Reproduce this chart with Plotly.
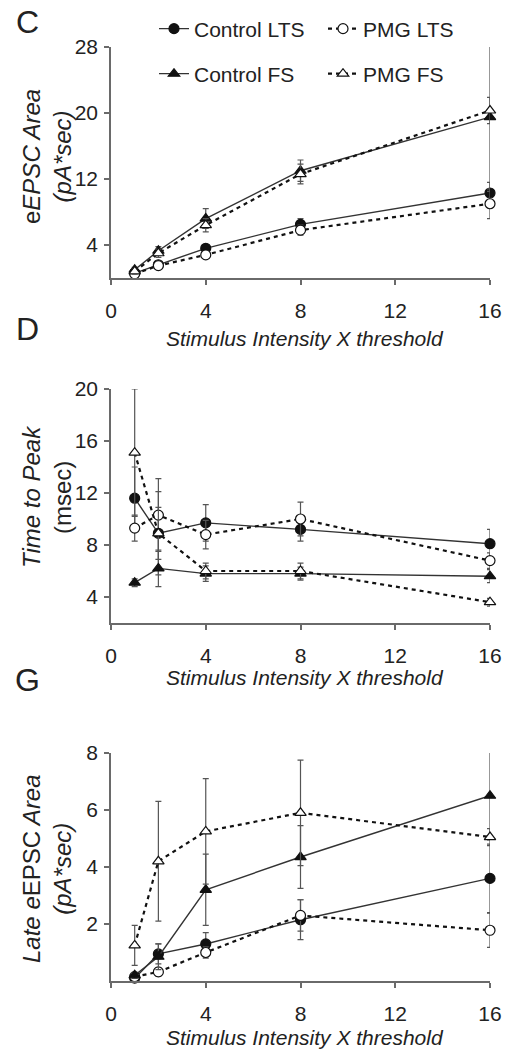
import plotly.graph_objects as go

W, H = 508, 1053

# ---------------- data ----------------
stim_x = [1, 2, 4, 8, 16]
x_ticks = [0, 4, 8, 12, 16]

# Panel C: eEPSC Area (pA*sec)
c_ctrl_lts = [0.6, 1.6, 3.6, 6.5, 10.3]
c_ctrl_lts_err = [0.2, 0.3, 0.4, 0.7, 1.3]
c_pmg_lts = [0.5, 1.5, 2.8, 5.8, 9.0]
c_pmg_lts_err = [0.2, 0.3, 0.4, 0.6, 1.8]
c_ctrl_fs = [1.0, 3.3, 7.2, 13.0, 19.5]
c_ctrl_fs_err = [0.3, 0.5, 1.2, 1.3, 9.0]
c_pmg_fs = [0.8, 3.0, 6.4, 12.6, 20.3]
c_pmg_fs_err = [0.3, 0.5, 0.8, 1.2, 1.6]
c_yticks = [4, 12, 20, 28]

# Panel D: Time to Peak (msec)
d_ctrl_lts = [11.6, 8.9, 9.7, 9.2, 8.1]
d_ctrl_lts_err = [2.4, 3.2, 1.4, 0.9, 1.1]
d_pmg_lts = [9.3, 10.3, 8.8, 10.0, 6.8]
d_pmg_lts_err = [1.0, 2.8, 1.1, 1.3, 0.6]
d_ctrl_fs = [5.1, 6.2, 5.8, 5.8, 5.6]
d_ctrl_fs_err = [0.3, 1.4, 0.6, 0.5, 0.5]
d_pmg_fs = [15.1, 8.9, 6.0, 6.0, 3.6]
d_pmg_fs_err = [4.9, 2.0, 0.6, 0.6, 0.3]
d_yticks = [4, 8, 12, 16, 20]

# Panel G: Late eEPSC Area (pA*sec)
g_ctrl_lts = [0.1, 0.95, 1.3, 2.15, 3.6]
g_ctrl_lts_err = [0.1, 0.35, 0.4, 0.7, 1.2]
g_pmg_lts = [0.15, 0.32, 1.0, 2.3, 1.78]
g_pmg_lts_err = [0.1, 0.15, 0.2, 0.55, 0.6]
g_ctrl_fs = [0.2, 0.85, 3.2, 4.35, 6.5]
g_ctrl_fs_err = [0.1, 0.45, 1.25, 1.1, 1.55]
g_pmg_fs = [1.25, 4.2, 5.25, 5.9, 5.05]
g_pmg_fs_err = [0.7, 2.1, 1.85, 1.85, 0.3]
g_yticks = [2, 4, 6, 8]

series_names = ["Control LTS", "PMG LTS", "Control FS", "PMG FS"]
x_title = "Stimulus Intensity X threshold"
y_title_lines = [("e<i>EPSC Area</i>", "<i>(pA*sec)</i>"),
                 ("<i>Time to Peak</i>", "(msec)"),
                 ("<i>Late e</i>EPSC<i> Area</i>", "<i>(pA*sec)</i>")]
panel_letters = ["C", "D", "G"]

# ---------------- helpers (window pixels -> paper fractions) ----------------
def px(x):
    return x / W

def py(y):
    return 1 - y / H

FONT = "Liberation Sans, Arial, sans-serif"
AX_COL = "#6a6a6a"
TXT_COL = "#222222"

styles = {
    "Control LTS": dict(symbol="circle", fill="#111111", dash="solid", lcol="#333333", lw=1.4),
    "PMG LTS": dict(symbol="circle", fill="white", dash="4px,4px", lcol="#111111", lw=2.2),
    "Control FS": dict(symbol="triangle-up", fill="#111111", dash="solid", lcol="#333333", lw=1.4),
    "PMG FS": dict(symbol="triangle-up", fill="white", dash="4px,4px", lcol="#111111", lw=2.2),
}

fig = go.Figure()

panels = [
    ("", [c_ctrl_lts, c_pmg_lts, c_ctrl_fs, c_pmg_fs],
     [c_ctrl_lts_err, c_pmg_lts_err, c_ctrl_fs_err, c_pmg_fs_err]),
    ("2", [d_ctrl_lts, d_pmg_lts, d_ctrl_fs, d_pmg_fs],
     [d_ctrl_lts_err, d_pmg_lts_err, d_ctrl_fs_err, d_pmg_fs_err]),
    ("3", [g_ctrl_lts, g_pmg_lts, g_ctrl_fs, g_pmg_fs],
     [g_ctrl_lts_err, g_pmg_lts_err, g_ctrl_fs_err, g_pmg_fs_err]),
]

legend_map = {"Control LTS": "legend", "PMG LTS": "legend",
              "Control FS": "legend2", "PMG FS": "legend2"}

for pi, (suffix, ys, errs) in enumerate(panels):
    for name, yv, ev in zip(series_names, ys, errs):
        s = styles[name]
        fig.add_trace(go.Scatter(
            x=stim_x, y=yv, name=name,
            mode="lines+markers",
            xaxis="x" + suffix, yaxis="y" + suffix,
            line=dict(color=s["lcol"], width=s["lw"], dash=s["dash"]),
            marker=dict(symbol=s["symbol"], size=10, color=s["fill"],
                        line=dict(color="#111111", width=1.2)),
            error_y=dict(type="data", array=ev, visible=True,
                         color="#555555", thickness=1.2, width=3),
            cliponaxis=False,
            showlegend=(pi == 0),
            legend=legend_map[name],
            hoverinfo="skip",
        ))

# ---------------- axes ----------------
x_dom = [px(111), px(490)]
panel_px = [(47, 278), (389, 623), (753, 981)]
y_ranges = [[0, 28], [2, 20], [0, 8]]
y_tickss = [c_yticks, d_yticks, g_yticks]

common_x = dict(range=[0, 16], tickvals=x_ticks, showline=True, linecolor=AX_COL,
                linewidth=1.5, ticks="outside", ticklen=5, tickcolor=AX_COL,
                tickwidth=1.5, showgrid=False, zeroline=False, automargin=False,
                tickfont=dict(family=FONT, size=21, color=TXT_COL),
                ticklabelstandoff=8, fixedrange=True)
common_y = dict(showline=True, linecolor=AX_COL, linewidth=1.5, ticks="outside",
                ticklen=5, tickcolor=AX_COL, tickwidth=1.5, showgrid=False,
                zeroline=False, automargin=False,
                tickfont=dict(family=FONT, size=21, color=TXT_COL),
                ticklabelstandoff=2, fixedrange=True)

layout_axes = {}
for i, ((top, bot), yr, yt) in enumerate(zip(panel_px, y_ranges, y_tickss)):
    sfx = "" if i == 0 else str(i + 1)
    layout_axes["xaxis" + sfx] = dict(common_x, domain=x_dom, anchor="y" + sfx)
    layout_axes["yaxis" + sfx] = dict(common_y, domain=[py(bot), py(top)],
                                      range=yr, tickvals=yt, anchor="x" + sfx)

fig.update_layout(**layout_axes)

# ---------------- annotations ----------------
ann = []
letter_pos = [(27, 22), (27, 329), (27, 680)]
for t, (x, y) in zip(panel_letters, letter_pos):
    ann.append(dict(text=t, x=px(x), y=py(y), xref="paper", yref="paper",
                    showarrow=False, xanchor="center", yanchor="middle",
                    font=dict(family=FONT, size=32, color=TXT_COL)))

xt_y = [338, 677, 1037]
for y in xt_y:
    ann.append(dict(text="<i>" + x_title + "</i>", x=px(305), y=py(y),
                    xref="paper", yref="paper", showarrow=False,
                    xanchor="center", yanchor="middle",
                    font=dict(family=FONT, size=21, color=TXT_COL)))

y_title_pos = [157, 497, 869]
for (l1, l2), y in zip(y_title_lines, y_title_pos):
    ann.append(dict(text=l1 + "<br>" + l2, x=px(47), y=py(y), xref="paper",
                    yref="paper", showarrow=False, textangle=-90,
                    xanchor="center", yanchor="middle",
                    font=dict(family=FONT, size=24, color=TXT_COL)))

leg_common = dict(orientation="h", xanchor="left", yanchor="middle",
                  bgcolor="rgba(0,0,0,0)", entrywidth=124, entrywidthmode="pixels",
                  font=dict(family=FONT, size=21, color=TXT_COL),
                  itemclick=False, itemdoubleclick=False)

fig.update_layout(
    width=W, height=H,
    margin=dict(l=0, r=0, t=0, b=0, autoexpand=False),
    paper_bgcolor="white", plot_bgcolor="white",
    annotations=ann,
    hovermode=False,
    legend=dict(leg_common, x=px(154), y=py(29)),
    legend2=dict(leg_common, x=px(154), y=py(74)),
)

# drop the browser's default 8px page margin so the figure fills the window
fig.write_html("out.html",
               config={"displayModeBar": False, "staticPlot": False},
               post_script="document.body.style.margin='0px';")
